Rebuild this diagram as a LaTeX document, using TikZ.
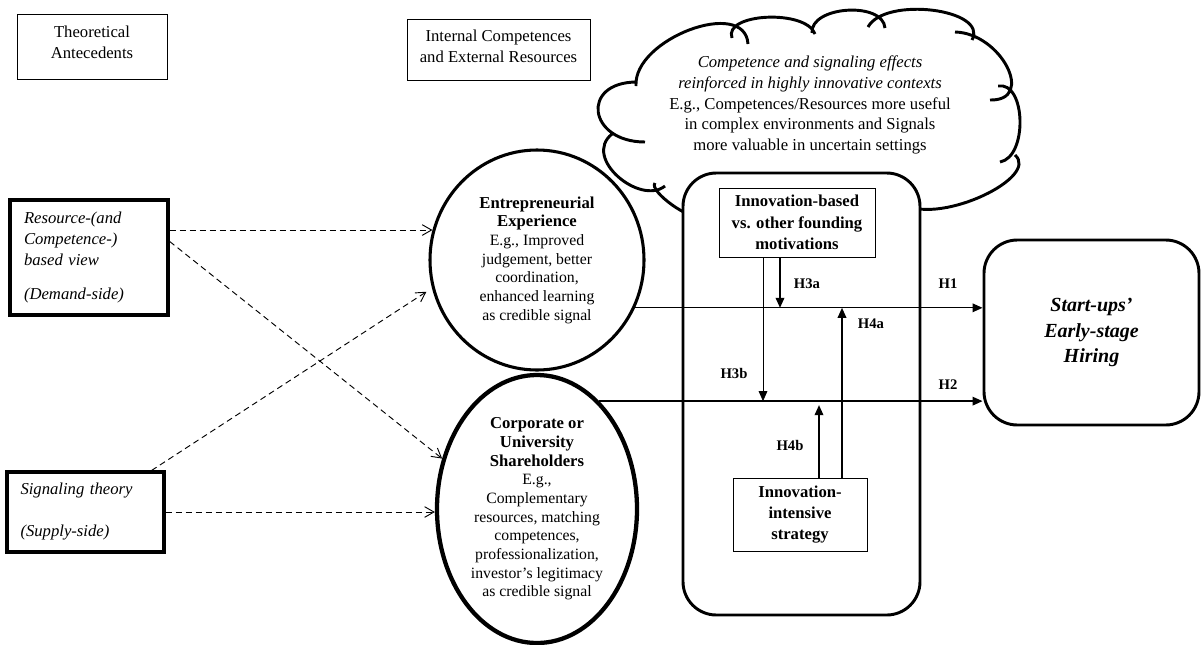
\documentclass[tikz,border=0pt]{standalone}
\usepackage{fontspec}
\setmainfont{Liberation Serif}
\usetikzlibrary{arrows.meta,calc,positioning,shapes.geometric}
\tikzset{hdr/.style={draw,line width=0.6pt,align=center,inner sep=2pt,font=\fontsize{12.5}{15.75}\selectfont},
  theory/.style={draw,line width=2.6pt,align=left,inner sep=0pt,text width=97.5pt,font=\fontsize{12.5}{15.5}\selectfont\itshape},
  construct/.style={ellipse,draw,inner sep=0pt,align=center,font=\fontsize{11.8}{14}\selectfont},
  modbox/.style={draw,line width=0.6pt,align=center,inner sep=2pt,font=\fontsize{12.5}{16}\selectfont\bfseries},
  hlab/.style={font=\fontsize{11}{13}\selectfont\bfseries},
  dasharr/.style={dash pattern=on 4.5pt off 3pt,line width=0.7pt,-{Straight Barb[length=7pt,width=8pt]}},
  arr/.style={line width=1pt,-{Triangle[length=7.5pt,width=6.5pt]}}}
\newcommand{\bigbf}[1]{{\fontsize{12.5}{14}\selectfont\bfseries #1}}
\begin{document}
\begin{tikzpicture}[x=0.75pt,y=-0.75pt]
\useasboundingbox (0,0) rectangle (1204,644);
% column headers
\node[hdr,text depth=7pt,minimum width=112.5pt,minimum height=48.75pt] (theo) at (92,46.5) {Theoretical\\Antecedents};
\node[hdr,text depth=4.5pt,minimum width=137.25pt,minimum height=45.75pt] (intl) at (498.5,49.5) {Internal Competences\\and External Resources};
% theories
\node[theory,minimum width=118.5pt,minimum height=86.25pt] (res) at (89,257.5) {Resource-(and\\Competence-)\\based view\\[10pt](Demand-side)};
\node[theory,line width=2.3pt,minimum width=117.75pt,minimum height=60pt] (sig) at (85.5,512) {Signaling theory\\[16pt](Supply-side)};
% context cloud (one arc per puff)
\draw[line width=2.2pt]
  (645,142) .. controls (588,142) and (580,82) .. (637,82)
  (636,86) .. controls (633,39) and (745,-3) .. (748,44)
  (732,38) .. controls (723,13) and (806,9) .. (815,34)
  (812,33) .. controls (810,6) and (883,1) .. (885,28)
  (868,27) .. controls (885,-4) and (989,9) .. (972,40)
  (955,32) .. controls (1001,33) and (1036,101) .. (990,100)
  (998,86) .. controls (1026,81) and (1028,157) .. (1000,162)
  (1015,155) .. controls (1040,177) and (943,224) .. (905,205)
  (612,134) .. controls (582,158) and (640,206) .. (665,186)
  (655,183) .. controls (648,191) and (693,223) .. (700,215);
\node[font=\fontsize{12.5}{15.5}\selectfont,align=center] (cloudtxt) at (810,105) {\textit{Competence and signaling effects}\\\textit{reinforced in highly innovative contexts}\\E.g., Competences/Resources more useful\\in complex environments and Signals\\more valuable in uncertain settings};
\node[draw,fill=white,line width=2.2pt,rounded corners=25pt,minimum width=177.75pt,minimum height=331.5pt] (ctx) at (801.5,394) {};
% competences and resources
\node[construct,line width=2.3pt,minimum width=160.5pt,minimum height=165pt] (ent) at (537,260) {\bigbf{Entrepreneurial}\\\bigbf{Experience}\\E.g., Improved\\judgement, better\\coordination,\\enhanced learning\\as credible signal};
\node[construct,line width=3.2pt,minimum width=150pt,minimum height=201pt] (corp) at (537,509) {\bigbf{Corporate or}\\\bigbf{University}\\\bigbf{Shareholders}\\E.g.,\\Complementary\\resources, matching\\competences,\\professionalization,\\investor’s legitimacy\\as credible signal};
% moderators
\node[modbox,minimum width=117pt,minimum height=51.75pt] (ibase) at (797,222.5) {Innovation-based\\vs. other founding\\motivations};
\node[modbox,minimum width=100.5pt,minimum height=54.75pt] (iint) at (800,514.5) {Innovation-\\intensive\\strategy};
% outcome
\node[draw,line width=2.2pt,rounded corners=25pt,minimum width=161.25pt,minimum height=138.75pt,align=center,font=\fontsize{15}{19}\selectfont\bfseries\itshape] (hire) at (1091.5,332.5) {Start-ups’\\Early-stage\\Hiring};
% dashed links
\draw[dasharr] (res.east |- ent.164) -- (ent.164);
\draw[dasharr] ([yshift=12pt]res.east) -- (corp.152);
\draw[dasharr,shorten >=5pt] ([xshift=-10.5pt]sig.north east) -- (ent.195);
\draw[dasharr] (sig.east) -- (sig.east -| corp.west);
% hypotheses
\draw[arr] (ent.-26) -- (ent.-26 -| hire.west);
\draw[arr] (corp.60) -- (corp.60 -| hire.west);
\draw[arr] ([xshift=-12.75pt]ibase.south) -- ([xshift=-12.75pt]ibase.south |- ent.-26);
\draw[arr,line width=0.6pt] ([xshift=-25.5pt]ibase.south) -- ([xshift=-25.5pt]ibase.south |- corp.60);
\draw[arr] ([xshift=31.5pt]iint.north) -- ([xshift=31.5pt]iint.north |- ent.-26);
\draw[arr,shorten >=3pt] ([xshift=14.25pt]iint.north) -- ([xshift=14.25pt]iint.north |- corp.60);
\node[hlab] (h1) at (948,284) {H1};
\node[hlab] (h2) at (948,385) {H2};
\node[hlab] (h3a) at (807,284) {H3a};
\node[hlab] (h3b) at (734,373) {H3b};
\node[hlab] (h4a) at (871,324) {H4a};
\node[hlab] (h4b) at (790,445) {H4b};
\end{tikzpicture}
\end{document}
